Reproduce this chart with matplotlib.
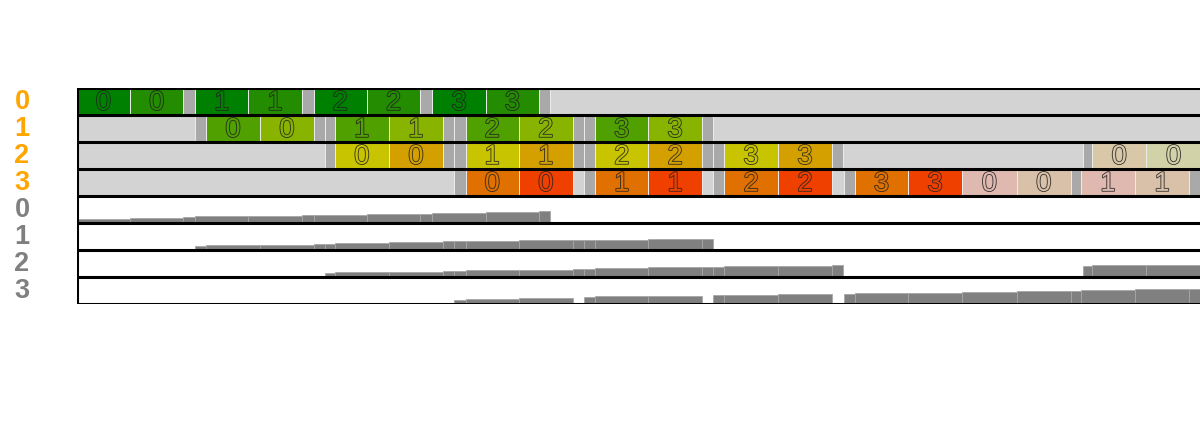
import matplotlib
matplotlib.use('Agg')
import matplotlib.pyplot as plt
from matplotlib.patches import Rectangle
import matplotlib.patheffects as pe
from matplotlib.transforms import blended_transform_factory

plt.rcParams['font.family'] = ['Liberation Sans', 'DejaVu Sans']

# ---------------- data ----------------
STAGE_LABELS = ['0', '1', '2', '3']
MEM_LABELS = ['0', '1', '2', '3']

# tasks per pipeline stage: (start, end, kind, micro-batch)
# kind: 'a'/'b' = first/second half of a forward step, 'c' = communication,
#       'ra'/'rb' = first/second half of a later (second-round) step
STAGE0_TASKS = [
    (0.00, 1.00, 'a', 0), (1.00, 2.00, 'b', 0), (2.00, 2.22, 'c', None),
    (2.22, 3.22, 'a', 1), (3.22, 4.22, 'b', 1), (4.22, 4.44, 'c', None),
    (4.44, 5.44, 'a', 2), (5.44, 6.44, 'b', 2), (6.44, 6.67, 'c', None),
    (6.67, 7.67, 'a', 3), (7.67, 8.67, 'b', 3), (8.67, 8.88, 'c', None),
]
STAGE0_MEM = [2.7, 3.7, 4.5, 5.3, 6.0, 6.3, 6.6, 7.3, 7.6, 8.6, 9.3, 10.3]

STAGE1_TASKS = [
    (2.22, 2.42, 'c', None),
    (2.42, 3.44, 'a', 0), (3.44, 4.44, 'b', 0), (4.44, 4.66, 'c', None), (4.66, 4.84, 'c', None),
    (4.84, 5.85, 'a', 1), (5.85, 6.87, 'b', 1), (6.87, 7.08, 'c', None), (7.08, 7.29, 'c', None),
    (7.29, 8.29, 'a', 2), (8.29, 9.30, 'b', 2), (9.30, 9.51, 'c', None), (9.51, 9.72, 'c', None),
    (9.72, 10.72, 'a', 3), (10.72, 11.72, 'b', 3), (11.72, 11.93, 'c', None),
]
STAGE1_MEM = [2.3, 3.3, 4.0, 4.7, 4.9, 5.7, 6.7, 7.2, 7.4, 8.0, 8.3, 8.6, 8.7, 9.0, 9.3, 10.0]

STAGE2_TASKS = [
    (4.66, 4.84, 'c', None),
    (4.84, 5.85, 'a', 0), (5.85, 6.87, 'b', 0), (6.87, 7.08, 'c', None), (7.08, 7.29, 'c', None),
    (7.29, 8.29, 'a', 1), (8.29, 9.30, 'b', 1), (9.30, 9.51, 'c', None), (9.51, 9.72, 'c', None),
    (9.72, 10.72, 'a', 2), (10.72, 11.72, 'b', 2), (11.72, 11.93, 'c', None), (11.93, 12.14, 'c', None),
    (12.14, 13.15, 'a', 3), (13.15, 14.16, 'b', 3), (14.16, 14.37, 'c', None),
    (18.86, 19.04, 'c', None), (19.04, 20.05, 'ra', 0), (20.05, 21.08, 'rb', 0),
]
STAGE2_MEM = [2.7, 3.7, 4.0, 4.7, 4.8, 5.3, 5.9, 6.4, 6.6, 7.5, 8.2, 8.8, 9.0, 9.6, 9.9, 10.2,
              9.6, 10.3, 11.0]

STAGE3_TASKS = [
    (7.07, 7.29, 'c', None), (7.29, 8.29, 'a', 0), (8.29, 9.30, 'b', 0),
    (9.51, 9.72, 'c', None), (9.72, 10.72, 'a', 1), (10.72, 11.72, 'b', 1),
    (11.93, 12.14, 'c', None), (12.14, 13.15, 'a', 2), (13.15, 14.16, 'b', 2),
    (14.39, 14.59, 'c', None), (14.59, 15.59, 'a', 3), (15.59, 16.60, 'b', 3),
    (16.60, 17.62, 'ra', 0), (17.62, 18.64, 'rb', 0), (18.64, 18.83, 'c', None),
    (18.83, 19.84, 'ra', 1), (19.84, 20.86, 'rb', 1), (20.86, 21.08, 'c', None),
]
STAGE3_MEM = [2.7, 4.0, 4.5, 5.5, 6.2, 6.9, 7.3, 7.9, 8.4, 8.7, 9.2, 9.8,
              10.7, 11.3, 12.0, 12.7, 13.3, 13.7]

STAGE_TASKS = [STAGE0_TASKS, STAGE1_TASKS, STAGE2_TASKS, STAGE3_TASKS]
STAGE_MEM = [STAGE0_MEM, STAGE1_MEM, STAGE2_MEM, STAGE3_MEM]

X_MAX = 21.06
MEM_FULL = 27.0   # memory value that fills one row

# ---------------- styles ----------------
COLORS = {
    0: {'a': '#008000', 'b': '#238c00', 'ra': '#d6dcb0', 'rb': '#cfd8a8'},
    1: {'a': '#50a000', 'b': '#88b400', 'ra': '#dcd8a8', 'rb': '#d4d8a8'},
    2: {'a': '#c8c400', 'b': '#d4a000', 'ra': '#d9c8a8', 'rb': '#d2d2a8'},
    3: {'a': '#e07000', 'b': '#f04000', 'ra': '#dfb8b0', 'rb': '#d9c0a8'},
}
COMM_COLOR = '#a9a9a9'
IDLE_COLOR = '#d3d3d3'
MEM_COLOR = '#808080'
LABEL_TOP = '#ffa500'
LABEL_BOT = '#808080'

fig = plt.figure(figsize=(12, 4.29), dpi=100)
ax = fig.add_axes([76.7 / 1200, 1 - 304 / 429, 1 - 76.7 / 1200, 216 / 429])
ax.set_xlim(0, X_MAX)
ax.set_ylim(8, 0)
ax.axis('off')

n = len(STAGE_TASKS)
for s, tasks in enumerate(STAGE_TASKS):
    ax.add_patch(Rectangle((0, s), X_MAX + 1, 1, facecolor=IDLE_COLOR,
                           edgecolor='#e6e6e6', linewidth=0.6))
    for (t0, t1, kind, mb) in tasks:
        if kind == 'c':
            fc = COMM_COLOR
        else:
            fc = COLORS[s][kind]
        ax.add_patch(Rectangle((t0, s), t1 - t0, 1, facecolor=fc,
                               edgecolor='#ececec', linewidth=0.7))
        if mb is not None:
            ax.text((t0 + t1) / 2, s + 0.55, str(mb), color=fc, fontsize=19.5,
                    ha='center', va='center',
                    path_effects=[pe.withStroke(linewidth=1.3, foreground='#222222', alpha=0.85)])

    # memory row
    base = n + s + 1
    for (t0, t1, kind, mb), m in zip(tasks, STAGE_MEM[s]):
        h = m / MEM_FULL
        ax.add_patch(Rectangle((t0, base - 0.05 - h), t1 - t0, h, facecolor=MEM_COLOR,
                               edgecolor='#a6a6a6', linewidth=0.6))

# row borders
for y in range(0, 2 * n + 1):
    ax.axhline(y, color='black', linewidth=2.2, zorder=5)
ax.axvline(0, color='black', linewidth=2.2, zorder=5)

# row labels
trans = blended_transform_factory(fig.transFigure, ax.transData)
for i, lab in enumerate(STAGE_LABELS):
    ax.text(22 / 1200, i + 0.52, lab, transform=trans, color=LABEL_TOP, fontsize=19.5,
            fontweight='bold', ha='center', va='center', clip_on=False)
for i, lab in enumerate(MEM_LABELS):
    ax.text(22 / 1200, n + i + 0.52, lab, transform=trans, color=LABEL_BOT, fontsize=19.5,
            fontweight='bold', ha='center', va='center', clip_on=False)

fig.savefig('out.png', dpi=100, facecolor='white')
